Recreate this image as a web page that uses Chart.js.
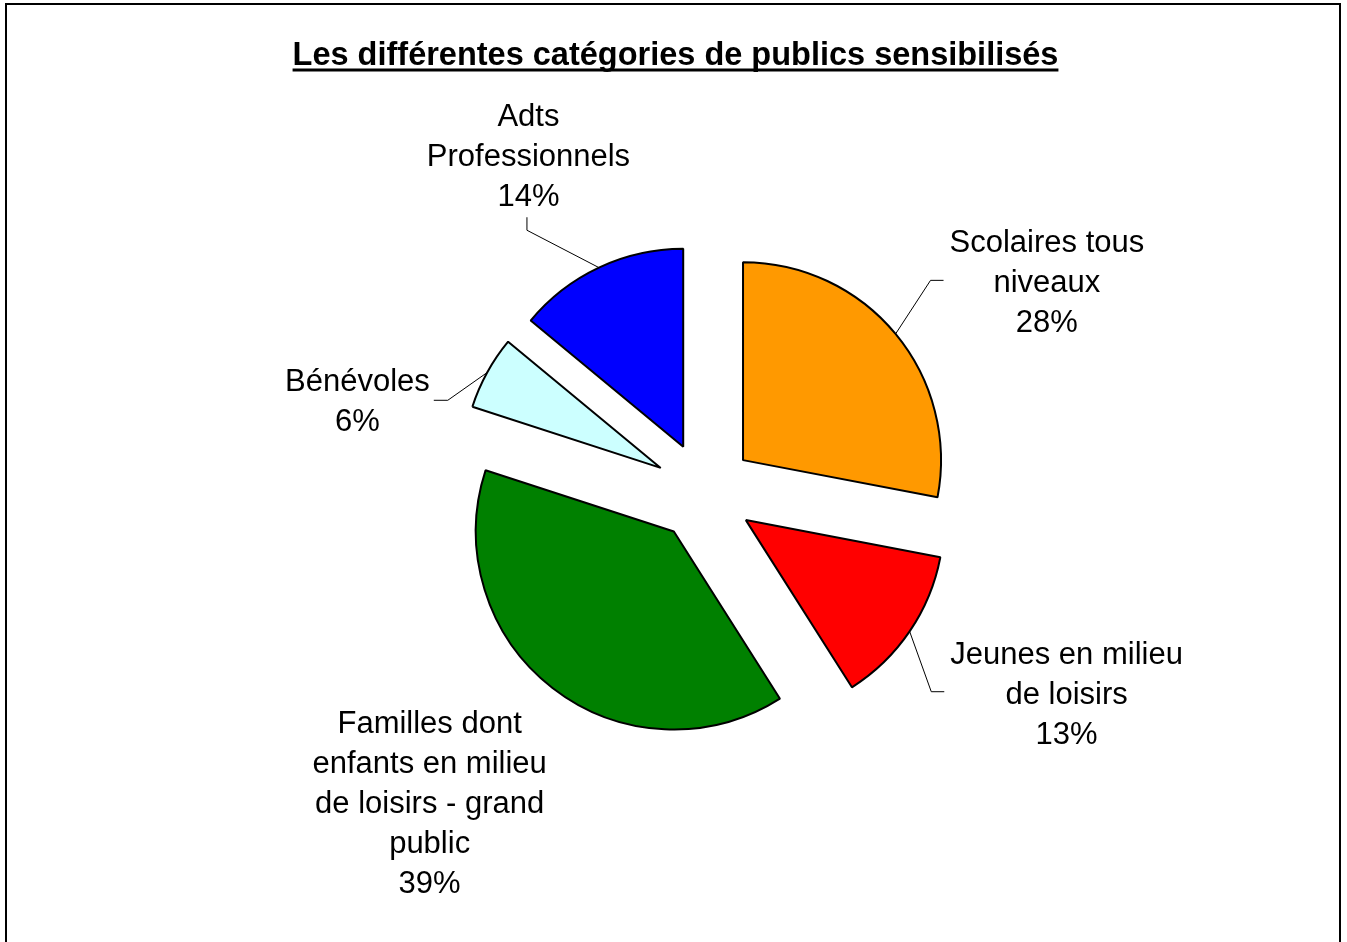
<!DOCTYPE html>
<html lang="fr">
<head>
<meta charset="utf-8">
<title>Les différentes catégories de publics sensibilisés</title>
<script src="https://cdn.jsdelivr.net/npm/chart.js@4.4.1/dist/chart.umd.min.js"></script>
<style>
  html, body { margin: 0; padding: 0; background: #fff; }
  canvas { display: block; }
</style>
</head>
<body>
<canvas id="camembert" width="1347" height="942"></canvas>
<script>
const titre = 'Les différentes catégories de publics sensibilisés';
const categories = [
    'Scolaires tous niveaux',
    'Jeunes en milieu de loisirs',
    'Familles dont enfants en milieu de loisirs - grand public',
    'Bénévoles',
    'Adts Professionnels'
];
const pourcentages = [28, 13, 39, 6, 14];
const couleurs = ['#FF9900', '#FF0000', '#008000', '#CCFFFF', '#0000FF'];

// placement des étiquettes : distance au centre, décalage angulaire (degrés), côté du trait de rappel
const etiqDistance = [402, 414, 414, 359, 380];
const etiqDecalage = [8, -5.2, 3.8, -14, -2.4];
const etiqCote = ['gauche', 'gauche', null, 'droite', 'bas'];

const ECLATEMENT = 50;
const POLICE = '"Liberation Sans", Arial, sans-serif';
const INTERLIGNE = 40;

function couper(ctx, texte, largeurMax) {
    const mots = texte.split(' ');
    const lignes = [];
    let courante = '';
    mots.forEach(mot => {
        const essai = courante ? courante + ' ' + mot : mot;
        if (courante && ctx.measureText(essai).width > largeurMax) {
            lignes.push(courante);
            courante = mot;
        } else {
            courante = essai;
        }
    });
    if (courante) lignes.push(courante);
    return lignes;
}

// écarte chaque part du centre le long de sa bissectrice
const eclatement = {
    id: 'eclatement',
    afterDatasetsUpdate(chart) {
        chart.getDatasetMeta(0).data.forEach(arc => {
            const milieu = (arc.startAngle + arc.endAngle) / 2;
            arc.x += Math.cos(milieu) * ECLATEMENT;
            arc.y += Math.sin(milieu) * ECLATEMENT;
        });
    }
};

const habillage = {
    id: 'habillage',
    afterDraw(chart) {
        const ctx = chart.ctx;
        const {left, right, top, bottom} = chart.chartArea;
        const cx = (left + right) / 2;
        const cy = (top + bottom) / 2;

        ctx.save();

        // cadre
        ctx.strokeStyle = '#000';
        ctx.lineWidth = 2;
        ctx.strokeRect(6, 4, 1334, 960);

        // titre souligné
        ctx.font = 'bold 32.5px ' + POLICE;
        ctx.fillStyle = '#000';
        ctx.textAlign = 'center';
        ctx.textBaseline = 'alphabetic';
        ctx.fillText(titre, 675.5, 65);
        const lt = ctx.measureText(titre).width;
        ctx.fillRect(675.5 - lt / 2, 68.5, lt, 3);

        // étiquettes et traits de rappel
        ctx.font = '31px ' + POLICE;
        chart.getDatasetMeta(0).data.forEach((arc, i) => {
            const milieu = (arc.startAngle + arc.endAngle) / 2;
            const a = milieu + etiqDecalage[i] * Math.PI / 180;
            const ex = cx + Math.cos(a) * etiqDistance[i];
            const ey = cy + Math.sin(a) * etiqDistance[i];
            const lignes = couper(ctx, categories[i], 240);
            lignes.push(pourcentages[i] + '%');
            const n = lignes.length;
            let largeur = 0;
            lignes.forEach((l, k) => {
                largeur = Math.max(largeur, ctx.measureText(l).width);
                ctx.fillText(l, ex, ey + (k - (n - 1) / 2) * INTERLIGNE + 11);
            });

            const cote = etiqCote[i];
            if (!cote) return;
            const px = arc.x + Math.cos(milieu) * arc.outerRadius;
            const py = arc.y + Math.sin(milieu) * arc.outerRadius;
            let ax, ay, bx, by;
            if (cote === 'gauche') {
                ax = ex - largeur / 2 - 6; ay = ey - 1;
                bx = ax - 13; by = ay;
            } else if (cote === 'droite') {
                ax = ex + largeur / 2 + 4; ay = ey;
                bx = ax + 14; by = ay;
            } else {
                ax = ex - 1.5; ay = ey + n * INTERLIGNE / 2 + 2;
                bx = ax; by = ay + 13;
            }
            ctx.beginPath();
            ctx.lineWidth = 1;
            ctx.moveTo(px, py);
            ctx.lineTo(bx, by);
            ctx.lineTo(ax, ay);
            ctx.stroke();
        });

        ctx.restore();
    }
};

new Chart(document.getElementById('camembert').getContext('2d'), {
    type: 'pie',
    data: {
        labels: categories,
        datasets: [{
            data: pourcentages,
            backgroundColor: couleurs,
            borderColor: '#000',
            borderWidth: 2
        }]
    },
    options: {
        responsive: false,
        animation: false,
        events: [],
        layout: {
            padding: { top: 293, bottom: 251, left: 200, right: 138 }
        },
        plugins: {
            legend: { display: false },
            tooltip: { enabled: false },
            title: { display: false }
        }
    },
    plugins: [eclatement, habillage]
});
</script>
</body>
</html>
